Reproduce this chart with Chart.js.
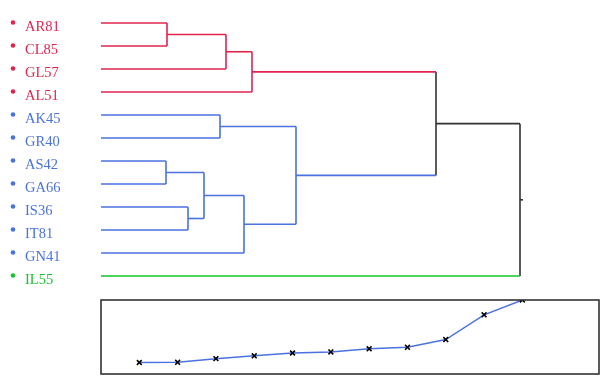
<!DOCTYPE html>
<html><head><meta charset="utf-8">
<script src="https://cdn.jsdelivr.net/npm/chart.js@4/dist/chart.umd.min.js"></script>
<style>
html,body{margin:0;padding:0;background:#fff;}
#wrap{position:relative;width:602px;height:376px;overflow:hidden;}
#c1{position:absolute;left:0;top:0;}
#c2{position:absolute;left:0;top:296px;}
</style></head>
<body><div id="wrap"><canvas id="c1" width="602" height="299"></canvas><canvas id="c2" width="602" height="80"></canvas></div>
<script>
// Leaves (top to bottom) and their cluster colours
const leafLabels = ['AR81','CL85','GL57','AL51','AK45','GR40','AS42','GA66','IS36','IT81','GN41','IL55'];
const leafColors = ['red','red','red','red','blue','blue','blue','blue','blue','blue','blue','green'];
// Merges: children (>=0 leaf index, <0 merge -(k+1)), merge distance, colour
const mergeLeft   = [0, -1, -2, 4, 6, 8, -5, -7, -4, -3, -10];
const mergeRight  = [1,  2,  3, 5, 7, 9, -6, 10, -8, -9, 11];
const mergeHeight = [66, 125, 151, 119, 65, 87, 103, 143, 195, 335, 419];
const mergeColors = ['red','red','red','blue','blue','blue','blue','blue','blue','black','black'];
// Sorted merge distances shown in the lower panel
const sortedDistances = [65, 66, 87, 103, 119, 125, 143, 151, 195, 335, 419];

const palette = {red:'#e0244e', blue:'#4a72e0', green:'#14c42a', black:'#333333'};

function nodeY(c){ return c >= 0 ? c : nodeYm[-c-1]; }
function nodeH(c){ return c >= 0 ? 0 : mergeHeight[-c-1]; }
function nodeC(c){ return c >= 0 ? leafColors[c] : mergeColors[-c-1]; }
const nodeYm = [];
for (let k = 0; k < mergeHeight.length; k++) {
  nodeYm[k] = (nodeY(mergeLeft[k]) + nodeY(mergeRight[k])) / 2;
}
const datasets = [];
function seg(pts, col){
  datasets.push({data: pts, borderColor: palette[col], borderWidth: 1.6, showLine: true, pointRadius: 0, fill: false, tension: 0});
}
for (let k = 0; k < mergeHeight.length; k++) {
  const h = mergeHeight[k];
  [mergeLeft[k], mergeRight[k]].forEach(c => {
    seg([{x: nodeH(c), y: nodeY(c)}, {x: h, y: nodeY(c)}], nodeC(c));
  });
  seg([{x: h, y: nodeY(mergeLeft[k])}, {x: h, y: nodeY(mergeRight[k])}], mergeColors[k]);
}
const rootK = mergeHeight.length - 1;
seg([{x: mergeHeight[rootK], y: nodeYm[rootK]}, {x: mergeHeight[rootK] + 3, y: nodeYm[rootK]}], 'black');

const labelPlugin = {
  id: 'leafLabels',
  afterDraw(chart){
    const ctx = chart.ctx, ys = chart.scales.y;
    ctx.save();
    ctx.font = '14.5px "Liberation Serif", "Times New Roman", serif';
    ctx.textBaseline = 'alphabetic';
    leafLabels.forEach((lab, i) => {
      const y = ys.getPixelForValue(i);
      ctx.fillStyle = palette[leafColors[i]];
      ctx.beginPath(); ctx.arc(13, y - 0.5, 2.3, 0, Math.PI*2); ctx.fill();
      ctx.fillText(lab, 25, y + 8);
    });
    ctx.restore();
  }
};

new Chart(document.getElementById('c1'), {
  type: 'scatter',
  data: {datasets},
  options: {
    responsive: false, animation: false,
    layout: {autoPadding: false, padding: {left: 101, right: 2, top: 0, bottom: 0}},
    plugins: {legend: {display: false}, tooltip: {enabled: false}},
    scales: {
      x: {type: 'linear', min: 0, max: 499, display: false},
      y: {type: 'linear', min: -1, max: 12, reverse: true, display: false}
    }
  },
  plugins: [labelPlugin]
});

const boxPlugin = {
  id: 'box',
  afterDraw(chart){
    const a = chart.chartArea, ctx = chart.ctx;
    ctx.save();
    ctx.strokeStyle = '#333333'; ctx.lineWidth = 1.6;
    ctx.strokeRect(a.left, a.top, a.right - a.left, a.bottom - a.top);
    ctx.restore();
  }
};

new Chart(document.getElementById('c2'), {
  type: 'line',
  data: {datasets: [{
    data: sortedDistances.map((v, i) => ({x: i, y: v})),
    borderColor: '#4a72e0', borderWidth: 1.5, tension: 0,
    pointStyle: 'crossRot', pointRadius: 3.4, pointBorderColor: '#000', pointBorderWidth: 1.6,
    pointBackgroundColor: '#000'
  }]},
  options: {
    responsive: false, animation: false,
    layout: {autoPadding: false, padding: {left: 101, right: 3, top: 4, bottom: 2}},
    plugins: {legend: {display: false}, tooltip: {enabled: false}},
    scales: {
      x: {type: 'linear', min: -1, max: 12, display: false},
      y: {type: 'linear', min: 0, max: 419, display: false}
    }
  },
  plugins: [boxPlugin]
});
</script></body></html>
